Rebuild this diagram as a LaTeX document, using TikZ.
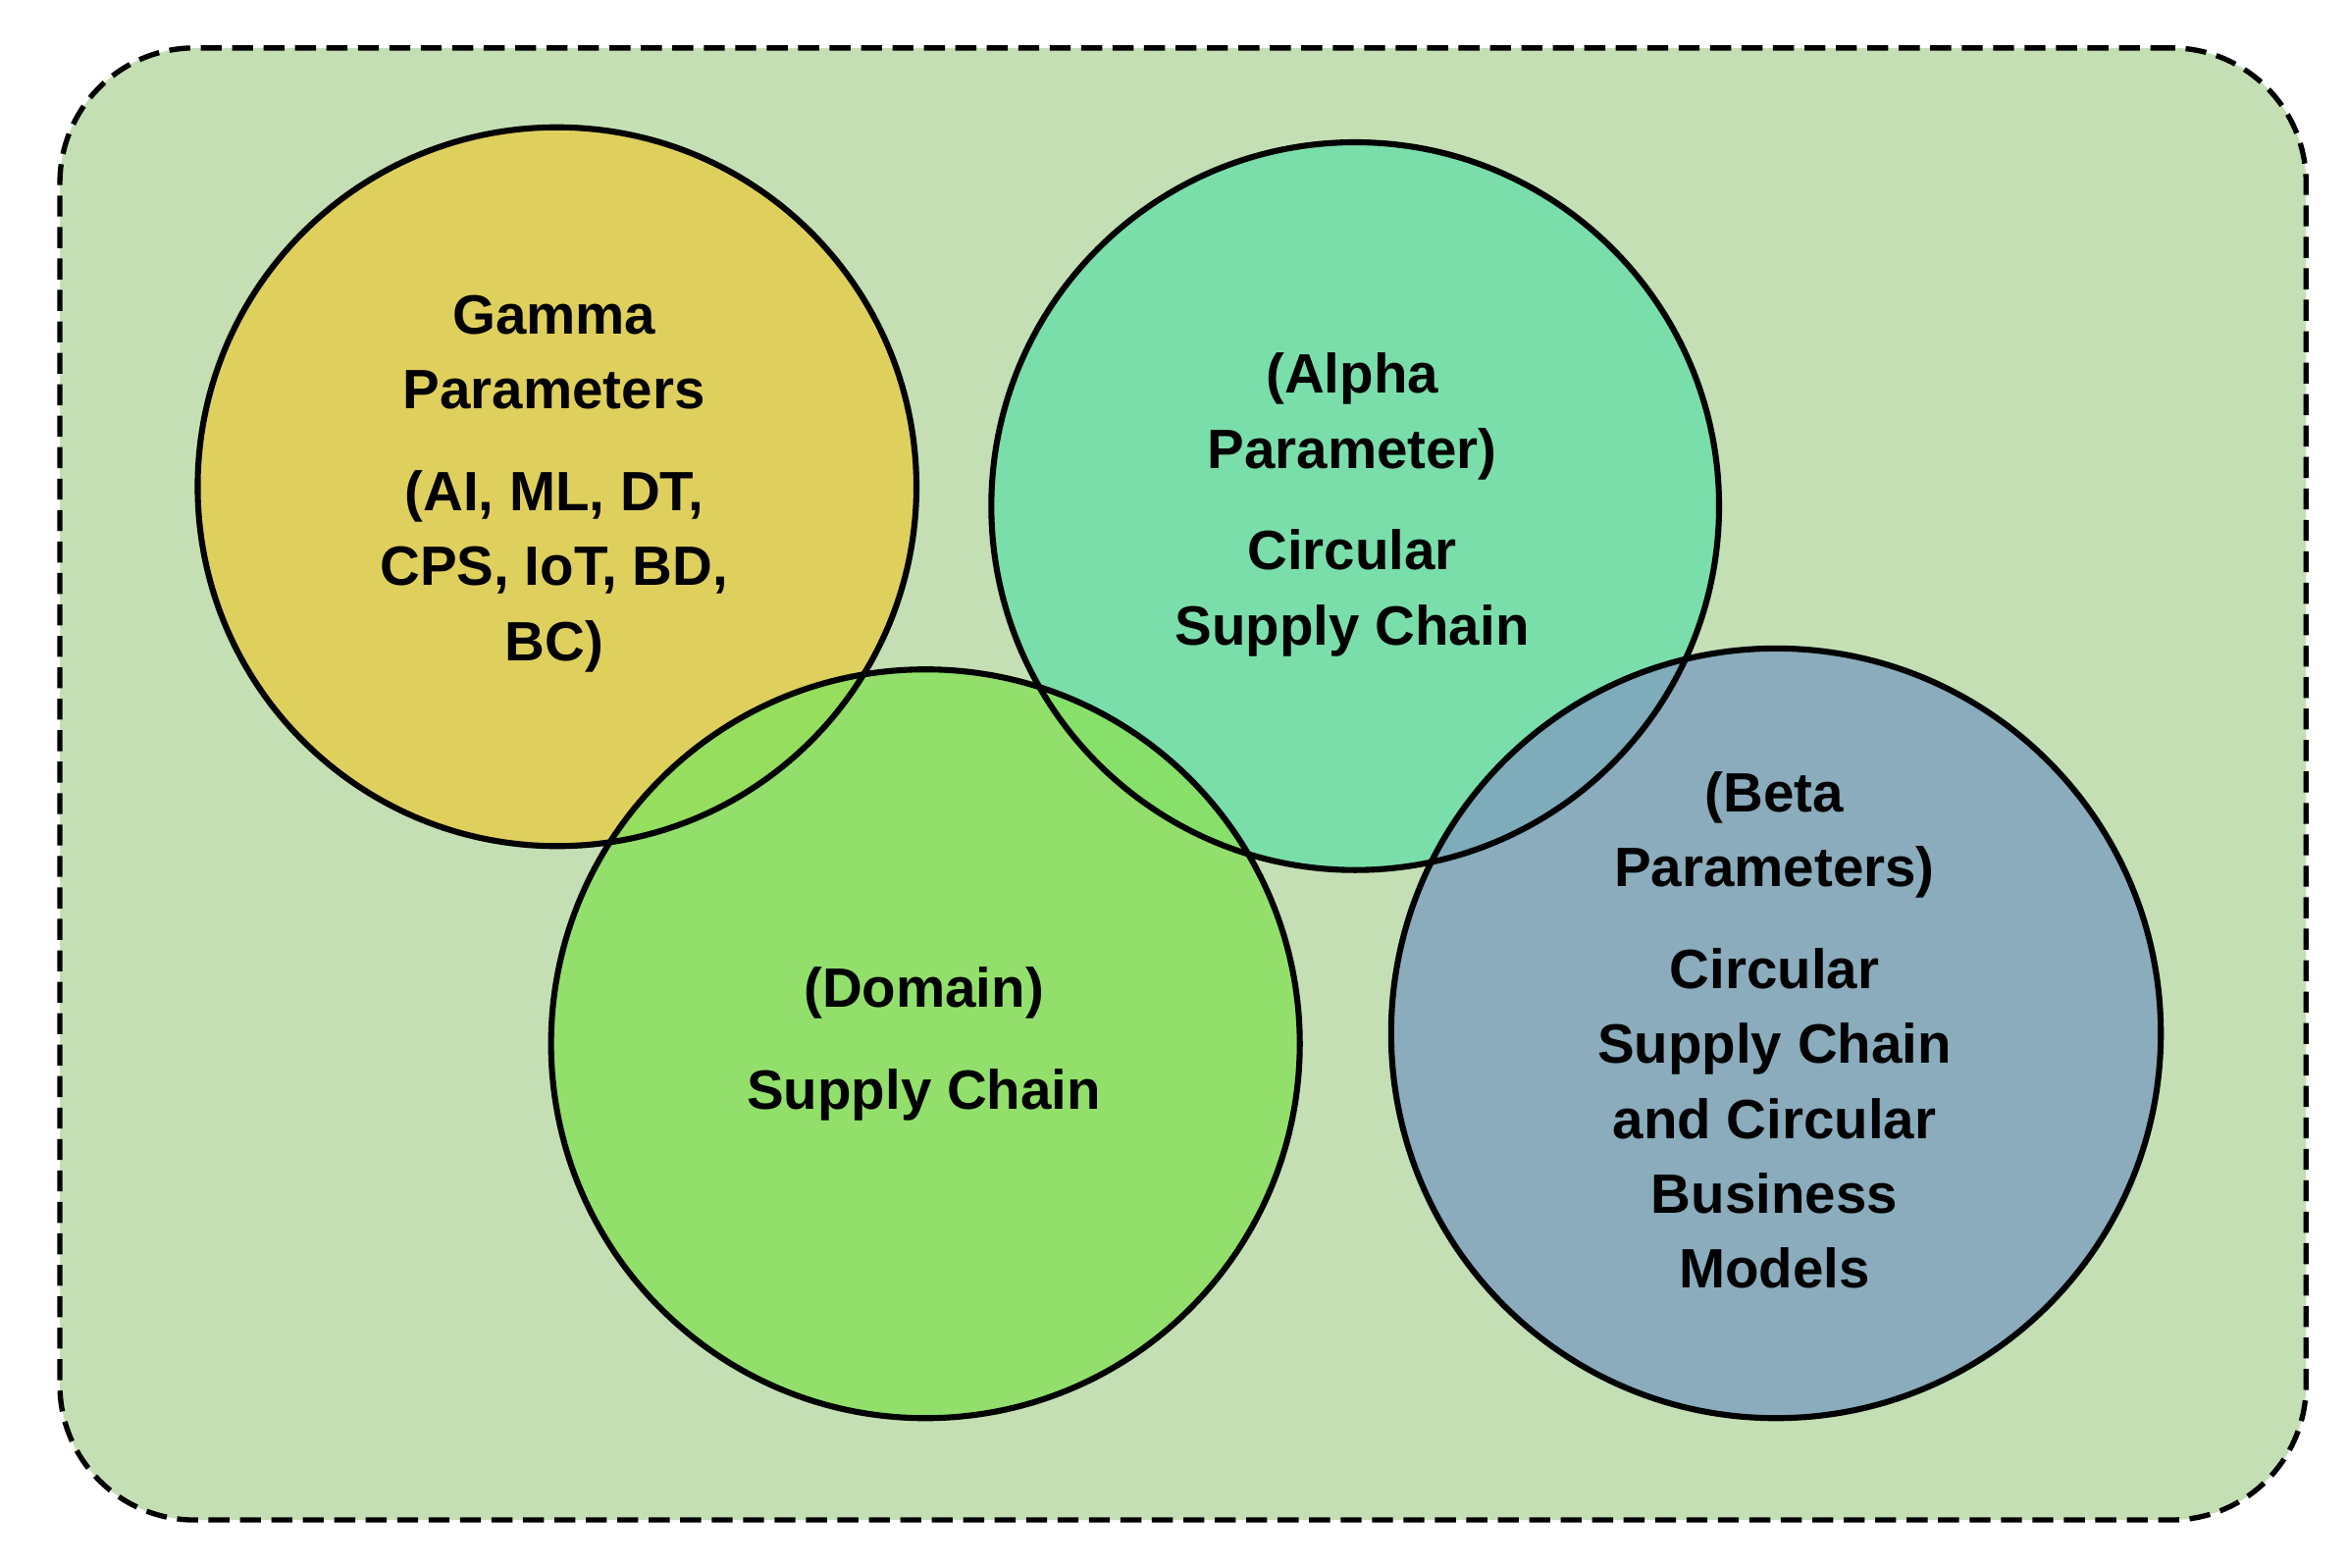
\documentclass[tikz,border=0pt]{standalone}
\usepackage{fontspec}
\setmainfont{Liberation Sans}
\definecolor{bgc}{RGB}{197,223,180}
\definecolor{gamc}{RGB}{228,206,80}
\definecolor{alpc}{RGB}{110,222,170}
\definecolor{domc}{RGB}{138,225,95}
\definecolor{betc}{RGB}{128,164,190}
\begin{document}
\begin{tikzpicture}[x=1pt,y=-1pt,
  circ/.style={line width=4pt,fill opacity=0.85},
  lbl/.style={font=\fontsize{37}{50}\selectfont\bfseries,align=center,text=black}]
\useasboundingbox (0,0) rectangle (1568,1047);
\fill[white] (0,0) rectangle (1568,1047);
\node[draw=black,line width=3.5pt,dash pattern=on 14pt off 7pt,fill=bgc,rounded corners=90pt,minimum width=1500pt,minimum height=983pt] (frame) at (790,523.5) {};
\fill[gamc,circ] (372,325) circle (240);
\fill[alpc,circ] (905,338) circle (243);
\fill[domc,circ] (618,697) circle (250);
\fill[betc,circ] (1186,690) circle (257);
\draw[line width=4pt] (372,325) circle (240);
\draw[line width=4pt] (905,338) circle (243);
\draw[line width=4pt] (618,697) circle (250);
\draw[line width=4pt] (1186,690) circle (257);
\node[lbl] (g) at (370,323) {Gamma\\Parameters\\[18pt](AI, ML, DT,\\CPS, IoT, BD,\\BC)};
\node[lbl] (a) at (903,337) {(Alpha\\Parameter)\\[18pt]Circular\\Supply Chain};
\node[lbl] (d) at (617,697) {(Domain)\\[18pt]Supply Chain};
\node[lbl] (b) at (1185,688) {(Beta\\Parameters)\\[18pt]Circular\\Supply Chain\\and Circular\\Business\\Models};
\end{tikzpicture}
\end{document}
